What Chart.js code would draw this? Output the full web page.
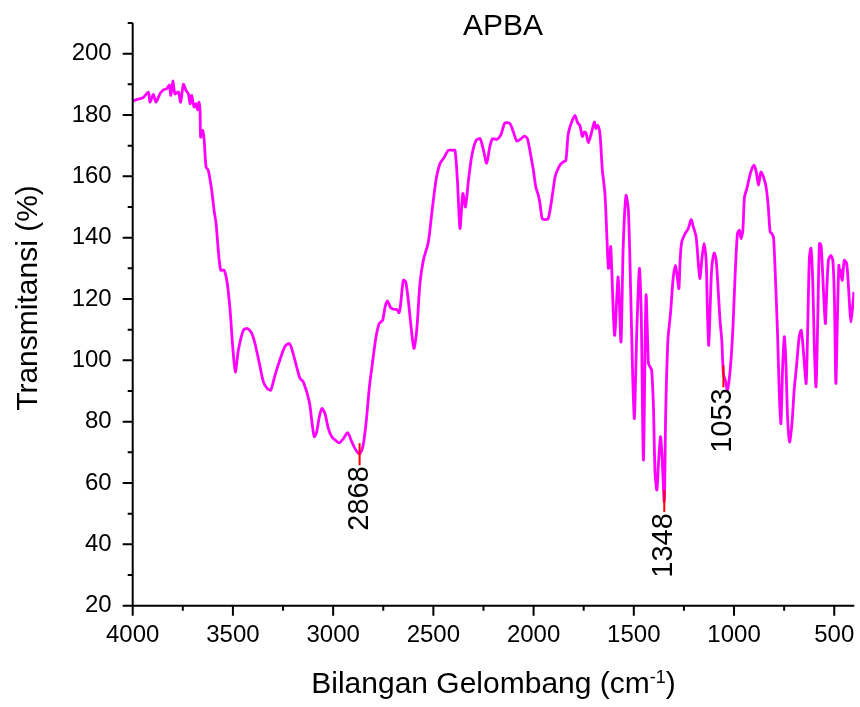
<!DOCTYPE html>
<html>
<head>
<meta charset="utf-8">
<title>APBA</title>
<script src="https://cdn.jsdelivr.net/npm/chart.js@4.4.1/dist/chart.umd.min.js"></script>
<style>
  html, body { margin: 0; padding: 0; background: #fff; }
  #wrap { width: 860px; height: 707px; }
</style>
</head>
<body>
<div id="wrap"><canvas id="ftir" width="860" height="707"></canvas></div>
<script>
// spectrum (cm-1, %T)
const wavenumber = [
  4000, 3980, 3947, 3922, 3914, 3897, 3884, 3864, 3847, 3830, 3817, 3810, 3800, 3789, 3772, 3761,
  3747, 3734, 3722, 3714, 3706, 3694, 3684, 3676, 3669, 3664, 3661, 3651, 3644, 3634, 3623, 3606,
  3594, 3584, 3573, 3561, 3544, 3528, 3514, 3501, 3488, 3473, 3448, 3428, 3406, 3390, 3368, 3348,
  3328, 3311, 3290, 3265, 3240, 3219, 3207, 3182, 3165, 3149, 3119, 3105, 3094, 3082, 3069, 3056,
  3041, 3024, 3007, 2986, 2969, 2949, 2927, 2907, 2886, 2868, 2852, 2836, 2819, 2802, 2786, 2770,
  2753, 2741, 2730, 2713, 2696, 2683, 2671, 2663, 2650, 2638, 2625, 2613, 2597, 2583, 2567, 2550,
  2525, 2508, 2487, 2467, 2447, 2425, 2404, 2392, 2380, 2367, 2353, 2340, 2325, 2308, 2287, 2267,
  2250, 2234, 2217, 2204, 2184, 2164, 2143, 2118, 2101, 2084, 2068, 2046, 2031, 2014, 2001, 1989,
  1976, 1968, 1957, 1943, 1927, 1910, 1893, 1885, 1869, 1852, 1839, 1827, 1810, 1794, 1780, 1769,
  1757, 1747, 1739, 1727, 1710, 1697, 1689, 1680, 1669, 1657, 1644, 1635, 1627, 1622, 1615, 1596,
  1578, 1564, 1553, 1539, 1527, 1515, 1505, 1497, 1485, 1472, 1463, 1452, 1439, 1427, 1419, 1411,
  1402, 1394, 1385, 1377, 1367, 1359, 1348, 1341, 1330, 1317, 1303, 1292, 1283, 1275, 1269, 1261,
  1244, 1228, 1214, 1203, 1189, 1178, 1170, 1161, 1150, 1139, 1133, 1126, 1119, 1111, 1099, 1089,
  1078, 1070, 1061, 1053, 1043, 1033, 1019, 1006, 995, 983, 973, 965, 956, 948, 936, 923,
  911, 900, 889, 878, 866, 853, 840, 829, 820, 811, 803, 795, 783, 773, 766, 758,
  749, 741, 733, 723, 711, 700, 687, 675, 665, 657, 648, 640, 632, 624, 616, 607,
  599, 591, 582, 574, 566, 557, 549, 544, 537, 529, 517, 507, 499, 492, 484, 477,
  472, 467, 460, 450, 438, 430, 422, 417, 410, 402
];
const transmittance = [
  184.6, 185.0, 185.7, 187.5, 184.2, 186.7, 184.2, 186.9, 188.2, 188.6, 189.7, 186.4, 191.1, 186.9, 187.5, 184.2,
  190.0, 188.0, 186.9, 183.7, 186.4, 182.6, 183.7, 181.7, 184.2, 181.5, 172.8, 175.0, 172.3, 163.0, 162.0, 155.5,
  148.9, 144.6, 135.9, 129.4, 129.4, 125.0, 116.3, 104.4, 96.2, 103.3, 109.8, 110.4, 108.8, 105.5, 99.0, 93.0,
  90.8, 90.3, 95.2, 100.3, 104.6, 105.5, 103.9, 97.9, 94.1, 93.0, 86.5, 79.4, 75.1, 76.7, 81.6, 84.3,
  82.7, 77.8, 75.1, 73.8, 73.1, 74.5, 76.4, 73.4, 70.7, 69.5, 71.8, 79.4, 91.4, 100.1, 107.7, 112.0,
  113.1, 117.4, 119.4, 117.2, 116.6, 116.6, 115.5, 118.5, 126.1, 125.6, 119.6, 112.0, 103.9, 109.8, 125.0, 132.6,
  138.6, 147.9, 158.7, 164.2, 166.1, 168.5, 168.5, 168.5, 158.7, 143.0, 154.4, 150.0, 158.7, 166.8, 171.7, 172.3,
  168.5, 164.3, 170.1, 172.3, 172.0, 173.4, 177.4, 177.2, 174.5, 171.5, 172.0, 173.1, 172.3, 166.8, 162.0, 156.5,
  153.8, 151.1, 146.2, 145.9, 146.2, 152.2, 159.8, 161.4, 163.6, 164.7, 165.2, 173.9, 177.7, 179.9, 177.4, 176.6,
  173.0, 174.5, 174.2, 171.0, 174.5, 177.7, 175.6, 176.6, 173.9, 162.0, 154.4, 141.3, 130.0, 130.5, 137.0, 108.2,
  127.2, 106.0, 137.0, 153.8, 148.9, 120.7, 93.5, 81.1, 109.8, 130.0, 115.3, 67.5, 121.2, 99.0, 97.9, 96.8,
  84.8, 63.1, 57.7, 66.4, 75.1, 68.6, 54.0, 82.7, 106.5, 115.3, 127.2, 131.0, 127.2, 123.4, 132.6, 138.6,
  141.3, 143.0, 145.9, 143.5, 140.2, 131.5, 126.7, 132.6, 138.1, 132.6, 116.3, 104.9, 117.4, 130.5, 135.0, 132.6,
  121.8, 113.1, 106.5, 95.5, 93.5, 90.3, 97.0, 109.8, 127.2, 141.3, 142.4, 139.7, 142.4, 153.3, 156.0, 159.8,
  162.5, 163.6, 161.4, 157.1, 161.4, 159.8, 156.5, 150.0, 141.9, 141.3, 140.0, 129.4, 108.8, 87.0, 79.4, 96.8,
  107.7, 99.0, 81.6, 73.4, 79.4, 90.3, 99.0, 107.7, 109.8, 105.5, 97.9, 92.5, 112.0, 133.7, 136.5, 125.0,
  103.3, 91.4, 114.2, 138.1, 137.5, 127.2, 116.3, 112.0, 123.4, 132.6, 134.2, 132.6, 119.6, 92.5, 114.2, 131.0,
  127.2, 129.4, 126.1, 132.6, 131.5, 125.0, 116.3, 112.5, 116.3, 122.3
];

const xTicks = [4000, 3750, 3500, 3250, 3000, 2750, 2500, 2250, 2000, 1750, 1500, 1250, 1000, 750, 500];
const yTicks = [20, 30, 40, 50, 60, 70, 80, 90, 100, 110, 120, 130, 140, 150, 160, 170, 180, 190, 200, 210];

// marked peaks
const peakLabels = ['2868', '1348', '1053'];
const peakX = [2868, 1348, 1053];
const peakY = [69.4, 54.1, 94.8];

const FONT = "'Liberation Sans', Arial, sans-serif";

const originLook = {
  id: 'originLook',
  afterDatasetsDraw(chart) {
    const { ctx, scales: { x, y } } = chart;
    ctx.save();
    peakLabels.forEach((txt, i) => {
      const px = x.getPixelForValue(peakX[i]);
      const top = y.getPixelForValue(peakY[i] + 3.6);
      const bot = y.getPixelForValue(peakY[i] - 3.6);
      ctx.strokeStyle = '#ff0000';
      ctx.lineWidth = 2;
      ctx.beginPath();
      ctx.moveTo(px, top);
      ctx.lineTo(px, bot);
      ctx.stroke();

      ctx.save();
      ctx.translate(px, bot + 1);
      ctx.rotate(-Math.PI / 2);
      ctx.fillStyle = '#000';
      ctx.font = '29px ' + FONT;
      ctx.textAlign = 'right';
      ctx.textBaseline = 'middle';
      ctx.fillText(txt, 0, 0);
      ctx.restore();
    });
    ctx.restore();
  },
  afterDraw(chart) {
    const { ctx, chartArea: a, scales: { x, y } } = chart;
    ctx.save();
    ctx.strokeStyle = '#000';
    ctx.lineWidth = 2;
    ctx.beginPath();
    ctx.moveTo(a.left, a.top);
    ctx.lineTo(a.left, a.bottom);
    ctx.lineTo(a.right, a.bottom);
    ctx.stroke();

    // tick marks, outside
    ctx.beginPath();
    yTicks.forEach(v => {
      const py = y.getPixelForValue(v);
      const len = v % 20 === 0 ? 10 : 5;
      ctx.moveTo(a.left, py);
      ctx.lineTo(a.left - len, py);
    });
    xTicks.forEach(v => {
      const px = x.getPixelForValue(v);
      const len = v % 500 === 0 ? 10 : 5;
      ctx.moveTo(px, a.bottom);
      ctx.lineTo(px, a.bottom + len);
    });
    ctx.stroke();

    ctx.fillStyle = '#000';
    // title
    ctx.font = '30px ' + FONT;
    ctx.textAlign = 'center';
    ctx.textBaseline = 'alphabetic';
    ctx.fillText('APBA', 503, 35);

    // y title
    ctx.save();
    ctx.translate(37, 298);
    ctx.rotate(-Math.PI / 2);
    ctx.fillText('Transmitansi (%)', 0, 0);
    ctx.restore();

    // x title with superscript
    const main = 'Bilangan Gelombang (cm';
    const sup = '-1';
    const close = ')';
    ctx.font = '30px ' + FONT;
    const w1 = ctx.measureText(main).width;
    const w3 = ctx.measureText(close).width;
    ctx.font = '18px ' + FONT;
    const w2 = ctx.measureText(sup).width;
    let sx = (a.left + a.right) / 2 - (w1 + w2 + w3) / 2;
    const base = 693;
    ctx.textAlign = 'left';
    ctx.font = '30px ' + FONT;
    ctx.fillText(main, sx, base);
    sx += w1;
    ctx.font = '18px ' + FONT;
    ctx.fillText(sup, sx, base - 10);
    sx += w2;
    ctx.font = '30px ' + FONT;
    ctx.fillText(close, sx, base);
    ctx.restore();
  }
};

new Chart(document.getElementById('ftir'), {
  type: 'line',
  data: {
    datasets: [{
      label: 'APBA',
      data: wavenumber.map((w, i) => ({ x: w, y: transmittance[i] })),
      borderColor: '#ff00ff',
      borderWidth: 2.8,
      pointRadius: 0,
      tension: 0.25,
      fill: false
    }]
  },
  options: {
    responsive: false,
    animation: false,
    devicePixelRatio: 1,
    layout: { padding: { top: 23, right: 5.7, left: 0, bottom: 0 } },
    plugins: {
      legend: { display: false },
      tooltip: { enabled: false },
      title: { display: false }
    },
    scales: {
      x: {
        type: 'linear',
        reverse: true,
        min: 400,
        max: 4000,
        grid: { display: false, drawTicks: false },
        border: { display: false },
        afterBuildTicks: s => { s.ticks = xTicks.map(v => ({ value: v })); },
        afterFit: s => { s.height = 101.3; s.paddingLeft = 0; s.paddingRight = 0; },
        ticks: {
          autoSkip: false,
          maxRotation: 0,
          padding: 15,
          color: '#000',
          font: { family: FONT, size: 24 },
          callback: v => (v % 500 === 0 ? String(v) : '')
        }
      },
      y: {
        type: 'linear',
        min: 20,
        max: 210,
        grid: { display: false, drawTicks: false },
        border: { display: false },
        afterBuildTicks: s => { s.ticks = yTicks.map(v => ({ value: v })); },
        afterFit: s => { s.width = 132.7; s.paddingTop = 0; s.paddingBottom = 0; },
        ticks: {
          autoSkip: false,
          padding: 21,
          color: '#000',
          font: { family: FONT, size: 24 },
          callback: v => (v % 20 === 0 ? String(v) : '')
        }
      }
    }
  },
  plugins: [originLook]
});
</script>
</body>
</html>
